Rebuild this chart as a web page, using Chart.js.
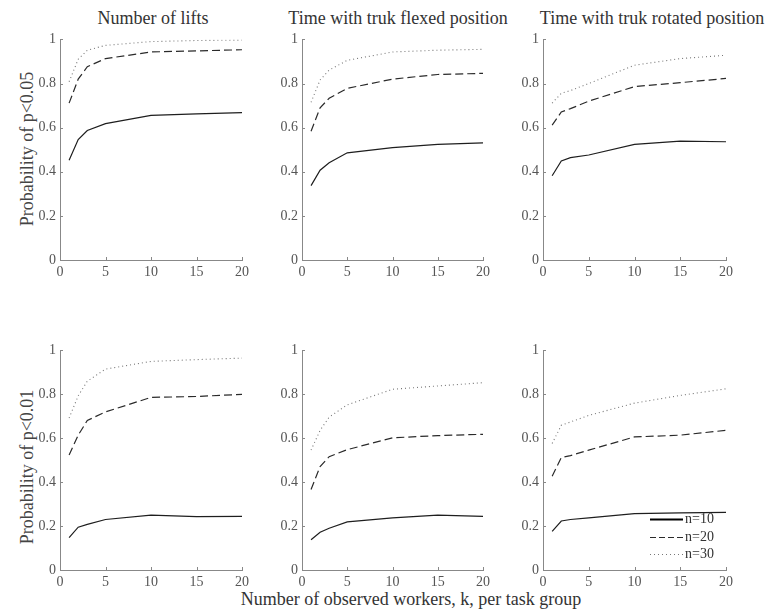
<!DOCTYPE html>
<html><head><meta charset="utf-8">
<script src="https://cdn.jsdelivr.net/npm/chart.js@4.4.1/dist/chart.umd.min.js"></script>
<style>
body{margin:0;background:#fff;width:766px;height:611px;position:relative;overflow:hidden;font-family:"Liberation Serif",serif;}
canvas{position:absolute;}
.t{position:absolute;font-size:18px;line-height:20px;color:#333;white-space:nowrap;transform:translate(-50%,-50%);}
.yl{position:absolute;font-size:18px;line-height:20px;color:#444;white-space:nowrap;transform:translate(-50%,-50%) rotate(-90deg);}
</style></head><body>
<div class="t" style="left:153px;top:18px">Number of lifts</div>
<div class="t" style="left:398px;top:18px">Time with truk flexed position</div>
<div class="t" style="left:652px;top:18px">Time with truk rotated position</div>
<div class="yl" style="left:27px;top:149px">Probability of p&lt;0.05</div>
<div class="yl" style="left:27px;top:467px">Probability of p&lt;0.01</div>
<div class="t" style="left:411px;top:599px">Number of observed workers, k, per task group</div>
<script>
// k values (x)
const kValues = [1, 2, 3, 5, 10, 15, 20];
const seriesNames = ['n=10', 'n=20', 'n=30'];
const xTickLabels = ['0', '5', '10', '15', '20'];
const yTickLabels = ['0', '0.2', '0.4', '0.6', '0.8', '1'];

// p<0.05
const lifts05_n10 = [0.452, 0.546, 0.587, 0.618, 0.656, 0.662, 0.668];
const lifts05_n20 = [0.711, 0.820, 0.876, 0.913, 0.943, 0.948, 0.953];
const lifts05_n30 = [0.808, 0.910, 0.951, 0.973, 0.990, 0.995, 0.997];
const flexed05_n10 = [0.337, 0.407, 0.441, 0.486, 0.509, 0.524, 0.531];
const flexed05_n20 = [0.584, 0.690, 0.733, 0.778, 0.820, 0.841, 0.846];
const flexed05_n30 = [0.715, 0.816, 0.861, 0.905, 0.943, 0.951, 0.955];
const rotated05_n10 = [0.382, 0.449, 0.464, 0.476, 0.524, 0.539, 0.536];
const rotated05_n20 = [0.611, 0.671, 0.686, 0.720, 0.786, 0.804, 0.823];
const rotated05_n30 = [0.711, 0.756, 0.768, 0.800, 0.883, 0.913, 0.928];
// p<0.01
const lifts01_n10 = [0.147, 0.195, 0.208, 0.230, 0.250, 0.243, 0.244];
const lifts01_n20 = [0.524, 0.614, 0.681, 0.720, 0.786, 0.790, 0.800];
const lifts01_n30 = [0.692, 0.793, 0.860, 0.915, 0.950, 0.958, 0.965];
const flexed01_n10 = [0.138, 0.172, 0.190, 0.219, 0.237, 0.250, 0.244];
const flexed01_n20 = [0.367, 0.471, 0.516, 0.548, 0.602, 0.612, 0.618];
const flexed01_n30 = [0.546, 0.636, 0.696, 0.752, 0.823, 0.838, 0.853];
const rotated01_n10 = [0.176, 0.223, 0.230, 0.237, 0.257, 0.260, 0.262];
const rotated01_n20 = [0.427, 0.512, 0.521, 0.546, 0.606, 0.614, 0.636];
const rotated01_n30 = [0.576, 0.659, 0.674, 0.704, 0.760, 0.795, 0.825];

const styles = [
  {borderColor: '#1e1e1e', borderWidth: 1.2, borderDash: []},
  {borderColor: '#2a2a2a', borderWidth: 1.2, borderDash: [8, 4]},
  {borderColor: '#777777', borderWidth: 1.1, borderDash: [1, 3]}
];

const FONT_FAMILY = "'Liberation Serif', 'Times New Roman', serif";

const inwardTicks = {
  id: 'inwardTicks',
  afterDraw(chart) {
    const {ctx, chartArea: a, scales: {x, y}} = chart;
    ctx.save();
    ctx.strokeStyle = '#888';
    ctx.lineWidth = 1;
    ctx.beginPath();
    x.ticks.forEach(t => { const px = Math.round(x.getPixelForValue(t.value)) + 0.5; ctx.moveTo(px, a.bottom); ctx.lineTo(px, a.bottom - 3); });
    y.ticks.forEach(t => { const py = Math.round(y.getPixelForValue(t.value)) + 0.5; ctx.moveTo(a.left, py); ctx.lineTo(a.left + 3, py); });
    ctx.stroke();
    ctx.restore();
  }
};

const cornerLegend = {
  id: 'cornerLegend',
  afterDraw(chart) {
    const {ctx, chartArea: a} = chart;
    ctx.save();
    ctx.font = '14px ' + FONT_FAMILY;
    ctx.textBaseline = 'middle';
    ctx.textAlign = 'left';
    const offs = [51, 33, 16];
    chart.data.datasets.forEach((ds, i) => {
      const y = Math.round(a.bottom - offs[i]) + 0.5;
      ctx.strokeStyle = i === 0 ? '#000' : ds.borderColor;
      ctx.lineWidth = i === 0 ? 2.2 : 1.2;
      ctx.setLineDash(i === 1 ? [6, 3] : ds.borderDash);
      ctx.beginPath();
      ctx.moveTo(a.right - 76, y);
      ctx.lineTo(a.right - 43, y);
      ctx.stroke();
      ctx.setLineDash([]);
      ctx.fillStyle = '#333';
      ctx.fillText(ds.label, a.right - 41, y);
    });
    ctx.restore();
  }
};

function makePanel(id, L, R, T, B, series, legend) {
  const c = document.createElement('canvas');
  c.id = id;
  const W = (R - L) + 52, H = (B - T) + 34;
  c.width = W; c.height = H;
  c.style.left = (L - 40) + 'px';
  c.style.top = (T - 10) + 'px';
  c.style.width = W + 'px'; c.style.height = H + 'px';
  document.body.appendChild(c);
  const tickFont = {family: FONT_FAMILY, size: 14};
  new Chart(c, {
    type: 'line',
    data: {
      datasets: series.map((vals, i) => ({
        label: seriesNames[i],
        data: kValues.map((k, j) => ({x: k, y: vals[j]})),
        borderColor: styles[i].borderColor,
        borderWidth: styles[i].borderWidth,
        borderDash: styles[i].borderDash,
        pointRadius: 0,
        fill: false,
        tension: 0
      }))
    },
    options: {
      responsive: false,
      animation: false,
      devicePixelRatio: 1,
      layout: {padding: {left: 10, top: 10, right: 12, bottom: 0}},
      plugins: {legend: {display: false}, tooltip: {enabled: false}},
      scales: {
        x: {
          type: 'linear', min: 0, max: 20,
          ticks: {stepSize: 5, padding: 4, color: '#555', font: tickFont, maxRotation: 0,
            callback: (v) => xTickLabels[Math.round(v / 5)]},
          grid: {display: false, drawTicks: false},
          border: {color: '#888', width: 1},
          afterFit(s) { s.height = 24; }
        },
        y: {
          type: 'linear', min: 0, max: 1,
          ticks: {stepSize: 0.2, padding: 4, color: '#555', font: tickFont,
            callback: (v) => yTickLabels[Math.round(v / 0.2)]},
          grid: {display: false, drawTicks: false},
          border: {color: '#888', width: 1},
          afterFit(s) { s.width = 30; }
        }
      }
    },
    plugins: legend ? [inwardTicks, cornerLegend] : [inwardTicks]
  });
}

function buildAll() {
  makePanel('p1', 60, 242, 37, 260, [lifts05_n10, lifts05_n20, lifts05_n30], false);
  makePanel('p2', 302, 483, 37, 260, [flexed05_n10, flexed05_n20, flexed05_n30], false);
  makePanel('p3', 543, 726, 37, 260, [rotated05_n10, rotated05_n20, rotated05_n30], false);
  makePanel('p4', 60, 242, 348, 570, [lifts01_n10, lifts01_n20, lifts01_n30], false);
  makePanel('p5', 302, 483, 348, 570, [flexed01_n10, flexed01_n20, flexed01_n30], false);
  makePanel('p6', 543, 726, 348, 570, [rotated01_n10, rotated01_n20, rotated01_n30], true);
}
if (document.fonts && document.fonts.load) {
  document.fonts.load("14px 'Liberation Serif'").then(buildAll, buildAll);
} else {
  buildAll();
}
</script>
</body></html>
